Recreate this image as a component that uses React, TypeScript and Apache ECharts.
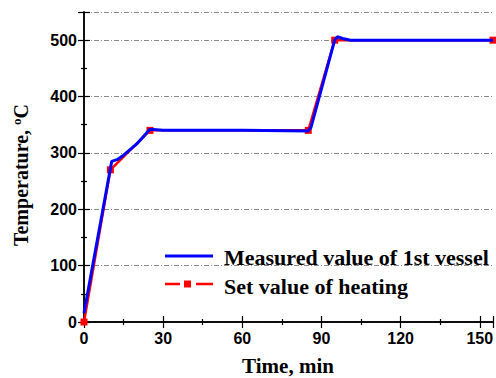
import React, { useEffect, useRef } from "react";
import * as echarts from "echarts";

const setTime = [0, 10, 25, 85, 95, 155];
const setTemp = [0, 270, 340, 340, 500, 500];
const measTime = [0, 10.5, 12.5, 15, 20, 25, 30, 60, 85, 86, 95, 96, 98, 101, 155];
const measTemp = [16, 285, 288, 296, 316, 342, 340, 340, 339, 345, 500, 506, 503, 500, 500];
const measName = "Measured value of 1st vessel";
const setName = "Set value of heating";

const serif = "'Liberation Serif', 'Times New Roman', serif";
const sans = "'Liberation Sans', Arial, sans-serif";

export default function App() {
  const ref = useRef<HTMLDivElement>(null);
  useEffect(() => {
    const chart = echarts.init(ref.current!, null, { renderer: "svg" });
    const axisLine = { show: true, lineStyle: { color: "#000", width: 1.5 } };
    const tick = { show: true, inside: true, length: 6, lineStyle: { color: "#000", width: 1.2 } };
    const minor = { show: true, splitNumber: 2, length: 3, lineStyle: { color: "#000", width: 1.2 } };
    const legendText = { fontFamily: serif, fontWeight: "bold", fontSize: 22, fill: "#000", align: "left", verticalAlign: "middle" };
    chart.setOption({
      animation: false,
      backgroundColor: "#fff",
      grid: { left: 84, right: 3, top: 12, bottom: 56, containLabel: false, outerBoundsMode: "none" },
      xAxis: [
        {
          type: "value", min: 0, max: 155, interval: 30,
          axisLine, axisTick: tick, minorTick: minor,
          splitLine: { show: false },
          axisLabel: {
            showMaxLabel: false, margin: 8,
            fontFamily: sans, fontWeight: "bold", fontSize: 16, color: "#000",
            formatter: (v: number) => (v % 30 === 0 ? String(v) : ""),
          },
        },
        {
          type: "value", position: "top", min: 0, max: 155, interval: 30,
          axisLine, axisTick: tick, minorTick: minor,
          splitLine: { show: false }, axisLabel: { show: false },
        },
      ],
      yAxis: [
        {
          type: "value", min: 0, max: 550, interval: 100,
          axisLine, axisTick: tick, minorTick: minor,
          splitLine: { show: true, lineStyle: { color: "#888", width: 1, type: [5, 2, 1, 2] } },
          axisLabel: {
            showMaxLabel: false, margin: 7,
            fontFamily: sans, fontWeight: "bold", fontSize: 16, color: "#000",
            formatter: (v: number) => (v % 100 === 0 ? String(v) : ""),
          },
        },
        {
          type: "value", position: "right", min: 0, max: 550, interval: 100,
          axisLine, axisTick: tick, minorTick: minor,
          splitLine: { show: false }, axisLabel: { show: false },
        },
      ],
      graphic: [
        {
          type: "text",
          x: 288,
          y: 366,
          style: {
            text: "Time, min",
            fontFamily: serif,
            fontWeight: "bold",
            fontSize: 21,
            fill: "#000",
            align: "center",
            verticalAlign: "middle",
          },
        },
        {
          type: "text",
          x: 21,
          y: 175,
          rotation: Math.PI / 2,
          style: {
            text: "Temperature, {sup|o}C",
            fontFamily: serif,
            fontWeight: "bold",
            fontSize: 20,
            fill: "#000",
            align: "center",
            verticalAlign: "middle",
            rich: {
              sup: { fontFamily: serif, fontWeight: "bold", fontSize: 13, verticalAlign: "top", padding: [0, 0, 9, 0] },
            },
          },
        },
        { type: "line", shape: { x1: 165, y1: 256, x2: 213, y2: 256 }, style: { stroke: "#0000ff", lineWidth: 3 } },
        { type: "text", x: 224, y: 257, style: { ...legendText, text: measName } },
        { type: "line", shape: { x1: 165, y1: 284, x2: 180, y2: 284 }, style: { stroke: "#ff0000", lineWidth: 2.5 } },
        { type: "line", shape: { x1: 196, y1: 284, x2: 213, y2: 284 }, style: { stroke: "#ff0000", lineWidth: 2.5 } },
        { type: "rect", shape: { x: 184, y: 280.5, width: 7, height: 7 }, style: { fill: "#ff0000" } },
        { type: "text", x: 224, y: 286, style: { ...legendText, text: setName } },
      ],
      series: [
        {
          name: setName,
          type: "line",
          data: setTime.map((t, i) => [t, setTemp[i]]),
          symbol: "rect",
          symbolSize: 7,
          showAllSymbol: true,
          lineStyle: { color: "#ff0000", width: 2.5 },
          itemStyle: { color: "#ff0000" },
          z: 2,
        },
        {
          name: measName,
          type: "line",
          data: measTime.map((t, i) => [t, measTemp[i]]),
          showSymbol: false,
          symbol: "none",
          lineStyle: { color: "#0000ff", width: 3 },
          itemStyle: { color: "#0000ff" },
          z: 3,
        },
      ],
    });
    return () => chart.dispose();
  }, []);
  return <div ref={ref} style={{ width: 496, height: 378, position: "absolute", left: 0, top: 0 }} />;
}
